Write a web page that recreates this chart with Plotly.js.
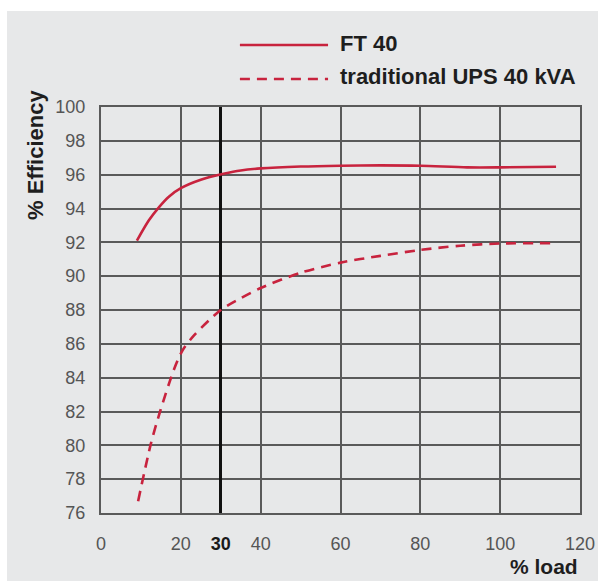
<!DOCTYPE html>
<html>
<head>
<meta charset="utf-8">
<script src="https://cdn.plot.ly/plotly-3.0.1.min.js"></script>
<style>html,body{margin:0;padding:0;background:#fff;}#chart{width:598px;height:581px;}</style>
</head>
<body>
<div id="chart"></div>
<script>
// ---- data ----
var seriesNames = ["FT 40", "traditional UPS 40 kVA"];
var ftLoad = [9, 12, 14.6, 17, 20, 25, 30.7, 35, 40, 50, 60, 70, 80, 91.7, 100, 114];
var ftEff  = [92.1, 93.3, 94.1, 94.7, 95.2, 95.7, 96.05, 96.25, 96.37, 96.48, 96.53, 96.55, 96.53, 96.43, 96.43, 96.47];
var upsLoad = [9.3, 12.5, 14.8, 18.3, 20.4, 23.3, 30, 35, 40, 50, 60, 70, 80, 90, 100, 113];
var upsEff  = [76.7, 80.1, 82.0, 84.5, 85.6, 86.5, 88.0, 88.7, 89.3, 90.2, 90.8, 91.2, 91.55, 91.8, 91.93, 91.95];
var xTickVals = [0, 20, 30, 40, 60, 80, 100, 120];
var xTickText = ["0", "20", "<b><span style=\"color:#1a1a1a\">30</span></b>", "40", "60", "80", "100", "120"];
var yTickVals = [76, 78, 80, 82, 84, 86, 88, 90, 92, 94, 96, 98, 100];
var refLoad = [30];
var xRange = [0, 120];
var yRange = [76, 100];
var xTitle = "% load";
var yTitle = "% Efficiency";

var red = "#c8233e";
var gridCol = "#5a5a5a";
var bg = "#e7e8e9";
var titleFont = {family: "Liberation Sans, Arial, sans-serif", size: 22, color: "#1e1e1e"};

var traces = [
  // empty trace so that the main (labelled) x axis is drawn
  {x: [], y: [], type: "scatter", mode: "lines", xaxis: "x", yaxis: "y", showlegend: false},
  {x: ftLoad, y: ftEff, type: "scatter", mode: "lines", name: seriesNames[0], xaxis: "x2", yaxis: "y",
   line: {color: red, width: 2.6, shape: "spline", smoothing: 0.8}, showlegend: false},
  {x: upsLoad, y: upsEff, type: "scatter", mode: "lines", name: seriesNames[1], xaxis: "x2", yaxis: "y",
   line: {color: red, width: 2.6, dash: "10px,7px", shape: "spline", smoothing: 0.8}, showlegend: false}
];

var layout = {
  width: 598, height: 581,
  margin: {l: 101, r: 18, t: 107, b: 68},
  paper_bgcolor: bg, plot_bgcolor: bg,
  hovermode: false,
  font: {family: "Liberation Sans, Arial, sans-serif", size: 18, color: "#555"},
  xaxis: {
    range: xRange, tickmode: "array", tickvals: xTickVals, ticktext: xTickText,
    showgrid: true, gridcolor: gridCol, gridwidth: 2, zeroline: false,
    showline: true, linecolor: gridCol, linewidth: 2, mirror: true,
    ticks: "outside", ticklen: 13, tickcolor: "rgba(0,0,0,0)",
    tickfont: {size: 18, color: "#555"}, fixedrange: true
  },
  xaxis2: {
    overlaying: "x", side: "bottom", range: xRange,
    tickmode: "array", tickvals: refLoad, showticklabels: false, ticks: "",
    showgrid: true, gridcolor: "#111", gridwidth: 3, zeroline: false, showline: false, fixedrange: true
  },
  yaxis: {
    range: yRange, tickmode: "array", tickvals: yTickVals,
    showgrid: true, gridcolor: gridCol, gridwidth: 2, zeroline: false,
    showline: true, linecolor: gridCol, linewidth: 2, mirror: true,
    ticks: "outside", ticklen: 10, tickcolor: "rgba(0,0,0,0)",
    tickfont: {size: 18, color: "#555"}, fixedrange: true
  },
  shapes: [
    // white outer frame strips
    {type: "rect", xref: "paper", yref: "paper", x0: -0.3, x1: -0.1962, y0: -0.3, y1: 1.4, fillcolor: "#fff", line: {width: 0}, layer: "below"},
    {type: "rect", xref: "paper", yref: "paper", x0: -0.3, x1: 1.2, y0: 1.2365, y1: 1.4, fillcolor: "#fff", line: {width: 0}, layer: "below"},
    // legend samples
    {type: "line", xref: "paper", yref: "paper", x0: 0.290, x1: 0.474, y0: 1.1527, y1: 1.1527, line: {color: red, width: 2.6}},
    {type: "line", xref: "paper", yref: "paper", x0: 0.290, x1: 0.474, y0: 1.069, y1: 1.069, line: {color: red, width: 2.6, dash: "10px,7px"}}
  ],
  annotations: [
    {text: "<b>" + seriesNames[0] + "</b>", xref: "paper", yref: "paper", x: 0.4948, y: 1.1552, xanchor: "left", yanchor: "middle", showarrow: false, font: titleFont},
    {text: "<b>" + seriesNames[1] + "</b>", xref: "paper", yref: "paper", x: 0.4948, y: 1.0739, xanchor: "left", yanchor: "middle", showarrow: false, font: titleFont},
    {text: "<b>" + yTitle + "</b>", xref: "paper", yref: "paper", x: -0.1357, y: 0.882, xanchor: "center", yanchor: "middle", textangle: -90, showarrow: false, font: titleFont},
    {text: "<b>" + xTitle + "</b>", xref: "paper", yref: "paper", x: 1, y: -0.165, xanchor: "right", yanchor: "bottom", showarrow: false, font: {family: titleFont.family, size: 21, color: titleFont.color}}
  ]
};

Plotly.newPlot("chart", traces, layout, {displayModeBar: false});
</script>
</body>
</html>
